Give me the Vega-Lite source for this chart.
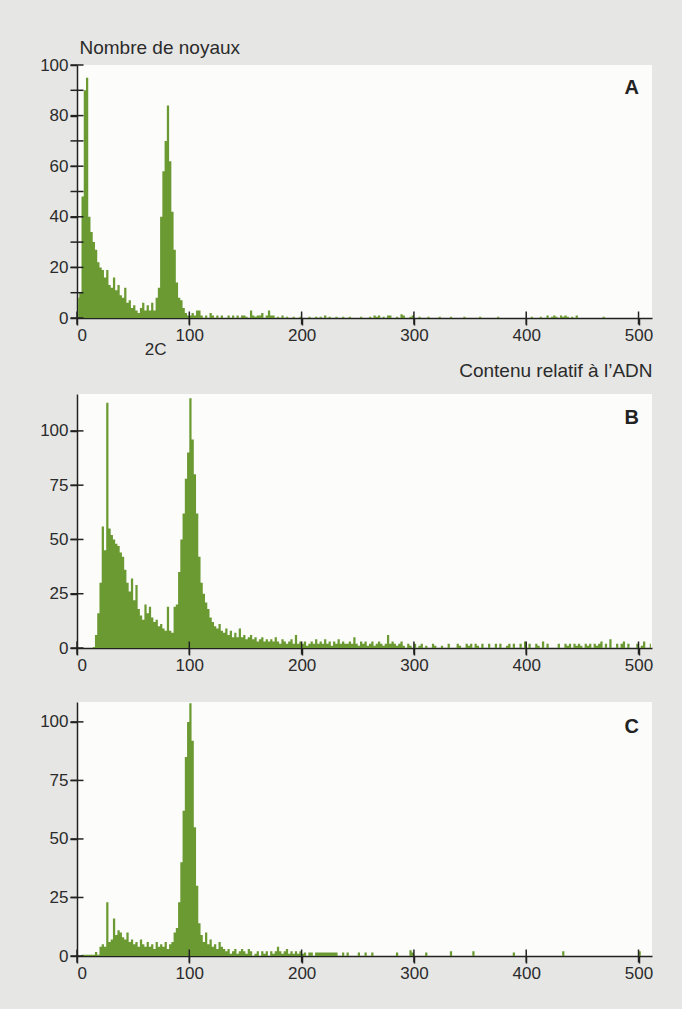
{
  "$schema": "https://vega.github.io/schema/vega-lite/v6.json",
  "background": "#e6e6e4",
  "padding": {"left": 39, "top": 38, "right": 31, "bottom": 28},
  "bounds": "flush",
  "spacing": 76,
  "config": {
    "font": "Liberation Sans",
    "view": {"fill": "#fcfcfa", "stroke": null},
    "axis": {"domainColor": "#222222", "tickColor": "#222222", "labelColor": "#2b2b2b", "titleColor": "#2b2b2b", "labelFontSize": 17, "titleFontSize": 19, "titleFontWeight": "normal", "grid": false, "tickSize": 7, "labelPadding": 2, "domainWidth": 1.5, "tickWidth": 1.5},
    "tick": {"color": "#222222", "thickness": 1.5, "size": 13, "opacity": 1}
  },
  "datasets": {
    "xt": [{"t": 0}, {"t": 100}, {"t": 200}, {"t": 300}, {"t": 400}, {"t": 500}],
    "yta": [{"t": 0}, {"t": 10}, {"t": 20}, {"t": 30}, {"t": 40}, {"t": 50}, {"t": 60}, {"t": 70}, {"t": 80}, {"t": 90}, {"t": 100}],
    "ytb": [{"t": 0}, {"t": 25}, {"t": 50}, {"t": 75}, {"t": 100}],
    "h": [
      {"x":1,"a":8,"b":0,"c":0},{"x":3,"a":10,"b":0,"c":0},{"x":5,"a":48,"b":0,"c":0.5},{"x":7,"a":90,"b":0,"c":0.5},
      {"x":9,"a":95,"b":0,"c":0.5},{"x":11,"a":40,"b":0,"c":0.5},{"x":13,"a":34,"b":0,"c":0.5},{"x":15,"a":30,"b":0.5,"c":0.5},
      {"x":17,"a":27,"b":6,"c":1.7},{"x":19,"a":22,"b":16,"c":0.5},{"x":21,"a":20,"b":30,"c":4},{"x":23,"a":19,"b":56,"c":5},
      {"x":25,"a":16,"b":45,"c":4},{"x":27,"a":19,"b":113,"c":23},{"x":29,"a":13,"b":55,"c":6},{"x":31,"a":12,"b":52,"c":7},
      {"x":33,"a":16,"b":50,"c":16},{"x":35,"a":11,"b":48,"c":9},{"x":37,"a":13,"b":47,"c":11},{"x":39,"a":9,"b":44,"c":10},
      {"x":41,"a":8,"b":42,"c":8},{"x":43,"a":12,"b":36,"c":7},{"x":45,"a":6,"b":30,"c":10},{"x":47,"a":7,"b":26,"c":6},
      {"x":49,"a":4,"b":32,"c":7},{"x":51,"a":5,"b":22,"c":5},{"x":53,"a":3,"b":29,"c":6},{"x":55,"a":2,"b":18,"c":4},
      {"x":57,"a":4,"b":15,"c":7},{"x":59,"a":6,"b":13,"c":5},{"x":61,"a":3,"b":20,"c":4},{"x":63,"a":5,"b":16,"c":6},
      {"x":65,"a":3,"b":19,"c":4},{"x":67,"a":6,"b":14,"c":5},{"x":69,"a":3,"b":12,"c":3},{"x":71,"a":8,"b":13,"c":6},
      {"x":73,"a":12,"b":10,"c":4},{"x":75,"a":40,"b":11,"c":5},{"x":77,"a":58,"b":9,"c":4},{"x":79,"a":70,"b":8,"c":6},
      {"x":81,"a":84,"b":19,"c":3},{"x":83,"a":62,"b":8,"c":5},{"x":85,"a":42,"b":7,"c":6},{"x":87,"a":27,"b":19,"c":10},
      {"x":89,"a":14,"b":20,"c":12},{"x":91,"a":8,"b":35,"c":23},{"x":93,"a":7,"b":50,"c":40},{"x":95,"a":4,"b":62,"c":62},
      {"x":97,"a":2,"b":78,"c":85},{"x":99,"a":1,"b":90,"c":100},{"x":101,"a":1,"b":115,"c":108},{"x":103,"a":2,"b":96,"c":92},
      {"x":105,"a":1,"b":80,"c":55},{"x":107,"a":3,"b":62,"c":30},{"x":109,"a":3,"b":42,"c":14},{"x":111,"a":1,"b":30,"c":9},
      {"x":113,"a":0,"b":25,"c":6},{"x":115,"a":1,"b":21,"c":10},{"x":117,"a":0,"b":18,"c":5},{"x":119,"a":2,"b":14,"c":7},
      {"x":121,"a":1,"b":12,"c":4},{"x":123,"a":0,"b":10,"c":5},{"x":125,"a":1,"b":9,"c":3},{"x":127,"a":0,"b":11,"c":6},
      {"x":129,"a":1,"b":8,"c":4},{"x":131,"a":0,"b":7,"c":3},{"x":133,"a":0,"b":9,"c":2},{"x":135,"a":1,"b":6,"c":3},
      {"x":137,"a":0,"b":8,"c":1},{"x":139,"a":1,"b":5,"c":2},{"x":141,"a":0,"b":7,"c":3},{"x":143,"a":1,"b":5,"c":1},
      {"x":145,"a":0,"b":9,"c":2},{"x":147,"a":1,"b":5,"c":3},{"x":149,"a":1,"b":6,"c":2},{"x":151,"a":0.5,"b":4,"c":1},
      {"x":153,"a":0,"b":5,"c":3},{"x":155,"a":3,"b":6,"c":2},{"x":157,"a":1,"b":4,"c":0},{"x":159,"a":0.5,"b":5,"c":1},
      {"x":161,"a":1,"b":3,"c":2},{"x":163,"a":1,"b":4,"c":0},{"x":165,"a":2,"b":5,"c":2},{"x":167,"a":0,"b":3,"c":1},
      {"x":169,"a":1,"b":4,"c":2},{"x":171,"a":3,"b":3,"c":0},{"x":173,"a":1,"b":4,"c":2},{"x":175,"a":1,"b":3,"c":1},
      {"x":177,"a":0,"b":5,"c":2},{"x":179,"a":0.5,"b":3,"c":4},{"x":181,"a":0,"b":2,"c":2},{"x":183,"a":1,"b":4,"c":1},
      {"x":185,"a":0,"b":3,"c":2},{"x":187,"a":0.5,"b":2,"c":3},{"x":189,"a":0,"b":3,"c":1},{"x":191,"a":0,"b":4,"c":2},
      {"x":193,"a":0.5,"b":2,"c":1},{"x":195,"a":0,"b":6,"c":2},{"x":197,"a":0,"b":2,"c":1},{"x":199,"a":0.5,"b":3,"c":2},
      {"x":201,"a":0,"b":2,"c":1},{"x":203,"a":0,"b":3,"c":1.5},{"x":205,"a":0,"b":1,"c":0},{"x":207,"a":0.5,"b":2,"c":1.5},
      {"x":209,"a":0,"b":3,"c":1.5},{"x":211,"a":0,"b":2,"c":0},{"x":213,"a":0.5,"b":4,"c":1.5},{"x":215,"a":0,"b":2,"c":1.5},
      {"x":217,"a":0.5,"b":3,"c":1.5},{"x":219,"a":0,"b":2,"c":1.5},{"x":221,"a":1,"b":4,"c":1.5},{"x":223,"a":0,"b":2,"c":1.5},
      {"x":225,"a":0.5,"b":3,"c":1.5},{"x":227,"a":0,"b":1,"c":1.5},{"x":229,"a":0,"b":3,"c":1.5},{"x":231,"a":0.5,"b":2,"c":1.5},
      {"x":233,"a":0,"b":4,"c":0},{"x":235,"a":0,"b":2,"c":0},{"x":237,"a":0.5,"b":3,"c":1.5},{"x":239,"a":0,"b":2,"c":0},
      {"x":241,"a":0,"b":2,"c":1.5},{"x":243,"a":0.5,"b":3,"c":0},{"x":245,"a":0,"b":2,"c":0},{"x":247,"a":0,"b":5,"c":0},
      {"x":249,"a":0,"b":2,"c":0},{"x":251,"a":0,"b":1,"c":1.5},{"x":253,"a":0.5,"b":3,"c":0},{"x":255,"a":0,"b":2,"c":0},
      {"x":257,"a":0,"b":3,"c":1.5},{"x":259,"a":0,"b":1,"c":0},{"x":261,"a":0.5,"b":2,"c":0},{"x":263,"a":0,"b":3,"c":1.5},
      {"x":265,"a":1,"b":1,"c":0},{"x":267,"a":0.5,"b":2,"c":0},{"x":269,"a":1,"b":3,"c":0},{"x":271,"a":0,"b":2,"c":0},
      {"x":273,"a":0.5,"b":1,"c":0},{"x":275,"a":0,"b":2,"c":0},{"x":277,"a":1,"b":6,"c":0},{"x":279,"a":1,"b":2,"c":0},
      {"x":281,"a":0,"b":3,"c":0},{"x":283,"a":0,"b":2,"c":0},{"x":285,"a":0.5,"b":1,"c":1.5},{"x":287,"a":0,"b":2,"c":0},
      {"x":289,"a":1.5,"b":3,"c":0},{"x":291,"a":1,"b":1,"c":0},{"x":293,"a":0,"b":0,"c":0},{"x":295,"a":0,"b":2,"c":0},
      {"x":297,"a":0.5,"b":1,"c":2.5},{"x":299,"a":1,"b":0,"c":1.5},{"x":301,"a":0,"b":2,"c":0},{"x":303,"a":0,"b":0,"c":0},
      {"x":305,"a":0.5,"b":1,"c":0},{"x":307,"a":0,"b":2,"c":0},{"x":309,"a":0,"b":0,"c":0},{"x":311,"a":0,"b":1,"c":1.5},
      {"x":313,"a":0.5,"b":0,"c":0},{"x":315,"a":0,"b":0,"c":0},{"x":317,"a":0,"b":2,"c":0},{"x":319,"a":0,"b":1,"c":0},
      {"x":321,"a":0,"b":0,"c":0},{"x":323,"a":0.5,"b":0,"c":0},{"x":325,"a":0,"b":1,"c":0},{"x":327,"a":0,"b":0,"c":0},
      {"x":329,"a":0,"b":0,"c":0},{"x":331,"a":0,"b":2,"c":0},{"x":333,"a":0.5,"b":0,"c":2},{"x":335,"a":0,"b":0,"c":0},
      {"x":337,"a":0,"b":0,"c":0},{"x":339,"a":0,"b":2,"c":0},{"x":341,"a":0,"b":1,"c":0},{"x":343,"a":0,"b":0,"c":0},
      {"x":345,"a":0.5,"b":0,"c":0},{"x":347,"a":0,"b":2,"c":0},{"x":349,"a":0,"b":1,"c":0},{"x":351,"a":0,"b":2,"c":0},
      {"x":353,"a":0,"b":0,"c":2},{"x":355,"a":0,"b":2,"c":0},{"x":357,"a":0,"b":1,"c":0},{"x":359,"a":0.5,"b":0,"c":0},
      {"x":361,"a":0,"b":2,"c":0},{"x":363,"a":0,"b":0,"c":0},{"x":365,"a":0,"b":0,"c":0},{"x":367,"a":0,"b":2,"c":0},
      {"x":369,"a":0,"b":0,"c":0},{"x":371,"a":0,"b":0,"c":0},{"x":373,"a":0,"b":2,"c":0},{"x":375,"a":0.5,"b":0,"c":0},
      {"x":377,"a":0,"b":2,"c":0},{"x":379,"a":0,"b":0,"c":0},{"x":381,"a":0,"b":0,"c":0},{"x":383,"a":0,"b":1,"c":0},
      {"x":385,"a":0,"b":2,"c":0},{"x":387,"a":0,"b":0,"c":0},{"x":389,"a":0,"b":2,"c":1.5},{"x":391,"a":0,"b":0,"c":0},
      {"x":393,"a":0,"b":0,"c":0},{"x":395,"a":0,"b":2,"c":0},{"x":397,"a":0,"b":0,"c":0},{"x":399,"a":0,"b":3,"c":0},
      {"x":401,"a":0,"b":0,"c":0},{"x":403,"a":0,"b":2,"c":0},{"x":405,"a":0.5,"b":0,"c":0},{"x":407,"a":0,"b":0,"c":0},
      {"x":409,"a":0,"b":2,"c":0},{"x":411,"a":0,"b":1,"c":0},{"x":413,"a":0.5,"b":0,"c":0},{"x":415,"a":0,"b":3,"c":0},
      {"x":417,"a":0,"b":0,"c":0},{"x":419,"a":1,"b":2,"c":0},{"x":421,"a":0,"b":0,"c":0},{"x":423,"a":0.5,"b":0,"c":0},
      {"x":425,"a":1,"b":0,"c":0},{"x":427,"a":0.5,"b":0,"c":0},{"x":429,"a":0,"b":2,"c":0},{"x":431,"a":1,"b":0,"c":0},
      {"x":433,"a":0.5,"b":0,"c":2},{"x":435,"a":1,"b":2,"c":0},{"x":437,"a":0.5,"b":1,"c":0},{"x":439,"a":0,"b":2,"c":0},
      {"x":441,"a":0.5,"b":0,"c":0},{"x":443,"a":0,"b":2,"c":0},{"x":445,"a":1,"b":1,"c":0},{"x":447,"a":0,"b":2,"c":0},
      {"x":449,"a":0,"b":1,"c":0},{"x":451,"a":0,"b":0,"c":0},{"x":453,"a":0,"b":2,"c":0},{"x":455,"a":0,"b":1,"c":0},
      {"x":457,"a":0,"b":2,"c":0},{"x":459,"a":0,"b":0,"c":0},{"x":461,"a":0,"b":2,"c":0},{"x":463,"a":0,"b":1,"c":0},
      {"x":465,"a":0,"b":2,"c":0},{"x":467,"a":0,"b":3,"c":0},{"x":469,"a":0.5,"b":0,"c":0},{"x":471,"a":0,"b":2,"c":0},
      {"x":473,"a":0,"b":0,"c":0},{"x":475,"a":0,"b":4,"c":0},{"x":477,"a":0,"b":0,"c":0},{"x":479,"a":0,"b":0,"c":0},
      {"x":481,"a":0,"b":2,"c":0},{"x":483,"a":0,"b":0,"c":0},{"x":485,"a":0,"b":2,"c":0},{"x":487,"a":0,"b":3,"c":0},
      {"x":489,"a":0,"b":0,"c":0},{"x":491,"a":0,"b":2,"c":0},{"x":493,"a":0,"b":0,"c":0},{"x":495,"a":0,"b":0,"c":0},
      {"x":497,"a":0,"b":0,"c":0},{"x":499,"a":0,"b":2,"c":0},{"x":501,"a":0,"b":0,"c":2},{"x":503,"a":0,"b":1,"c":0},
      {"x":505,"a":0,"b":3,"c":0},{"x":507,"a":0,"b":0,"c":0},{"x":509,"a":0,"b":0,"c":0},{"x":511,"a":0,"b":2,"c":0}
    ]
  },
  "vconcat": [
    {
      "width": 575,
      "height": 253,
      "layer": [
        {
          "data": {"name": "h"},
          "mark": {"type": "area", "interpolate": "step", "color": "#6b9a33", "opacity": 1},
          "encoding": {
            "x": {"field": "x", "type": "quantitative", "scale": {"domain": [0, 512], "nice": false},
              "axis": {"values": [0, 100, 200, 300, 400, 500], "title": "Contenu relatif à l’ADN", "titleX": 575, "titleY": 52, "titleAlign": "right", "titleBaseline": "middle", "titleAnchor": null}},
            "y": {"field": "a", "type": "quantitative", "scale": {"domain": [0, 100], "nice": false},
              "axis": {"values": [0, 10, 20, 30, 40, 50, 60, 70, 80, 90, 100], "labelExpr": "datum.value % 20 == 0 ? datum.label : ''", "title": "Nombre de noyaux", "titleAngle": 0, "titleAlign": "left", "titleX": 2, "titleY": -18, "titleBaseline": "middle"}}
          }
        },
        {
          "data": {"name": "xt"},
          "mark": {"type": "tick", "orient": "vertical"},
          "encoding": {"x": {"field": "t", "type": "quantitative", "title": "Contenu relatif à l’ADN"}, "y": {"datum": 0}}
        },
        {
          "data": {"name": "yta"},
          "mark": {"type": "tick", "orient": "horizontal"},
          "encoding": {"y": {"field": "t", "type": "quantitative", "title": "Nombre de noyaux"}, "x": {"datum": 0}}
        },
        {
          "data": {"values": [{"lbl": "A"}]},
          "mark": {"type": "text", "fontWeight": "bold", "fontSize": 20, "color": "#222222"},
          "encoding": {"x": {"datum": 494}, "y": {"datum": 91}, "text": {"field": "lbl"}}
        },
        {
          "data": {"values": [{"lbl": "2C"}]},
          "mark": {"type": "text", "fontSize": 17, "dy": 32, "color": "#2b2b2b"},
          "encoding": {"x": {"datum": 70}, "y": {"datum": 0}, "text": {"field": "lbl"}}
        }
      ]
    },
    {
      "bounds": "flush",
      "spacing": 54,
      "vconcat": [
        {
          "width": 575,
          "height": 254,
          "layer": [
            {
              "data": {"name": "h"},
              "mark": {"type": "area", "interpolate": "step", "color": "#6b9a33", "opacity": 1},
              "encoding": {
                "x": {"field": "x", "type": "quantitative", "scale": {"domain": [0, 512], "nice": false}, "axis": {"values": [0, 100, 200, 300, 400, 500], "title": null}},
                "y": {"field": "b", "type": "quantitative", "scale": {"domain": [0, 117], "nice": false}, "axis": {"values": [0, 25, 50, 75, 100], "title": null}}
              }
            },
            {
              "data": {"name": "xt"},
              "mark": {"type": "tick", "orient": "vertical"},
              "encoding": {"x": {"field": "t", "type": "quantitative", "title": null}, "y": {"datum": 0}}
            },
            {
              "data": {"name": "ytb"},
              "mark": {"type": "tick", "orient": "horizontal"},
              "encoding": {"y": {"field": "t", "type": "quantitative", "title": null}, "x": {"datum": 0}}
            },
            {
              "data": {"values": [{"lbl": "B"}]},
              "mark": {"type": "text", "fontWeight": "bold", "fontSize": 20, "color": "#222222"},
              "encoding": {"x": {"datum": 494}, "y": {"datum": 106}, "text": {"field": "lbl"}}
            }
          ]
        },
        {
          "width": 575,
          "height": 254,
          "layer": [
            {
              "data": {"name": "h"},
              "mark": {"type": "area", "interpolate": "step", "color": "#6b9a33", "opacity": 1},
              "encoding": {
                "x": {"field": "x", "type": "quantitative", "scale": {"domain": [0, 512], "nice": false}, "axis": {"values": [0, 100, 200, 300, 400, 500], "title": null}},
                "y": {"field": "c", "type": "quantitative", "scale": {"domain": [0, 108.5], "nice": false}, "axis": {"values": [0, 25, 50, 75, 100], "title": null}}
              }
            },
            {
              "data": {"name": "xt"},
              "mark": {"type": "tick", "orient": "vertical"},
              "encoding": {"x": {"field": "t", "type": "quantitative", "title": null}, "y": {"datum": 0}}
            },
            {
              "data": {"name": "ytb"},
              "mark": {"type": "tick", "orient": "horizontal"},
              "encoding": {"y": {"field": "t", "type": "quantitative", "title": null}, "x": {"datum": 0}}
            },
            {
              "data": {"values": [{"lbl": "C"}]},
              "mark": {"type": "text", "fontWeight": "bold", "fontSize": 20, "color": "#222222"},
              "encoding": {"x": {"datum": 494}, "y": {"datum": 98}, "text": {"field": "lbl"}}
            }
          ]
        }
      ]
    }
  ]
}
